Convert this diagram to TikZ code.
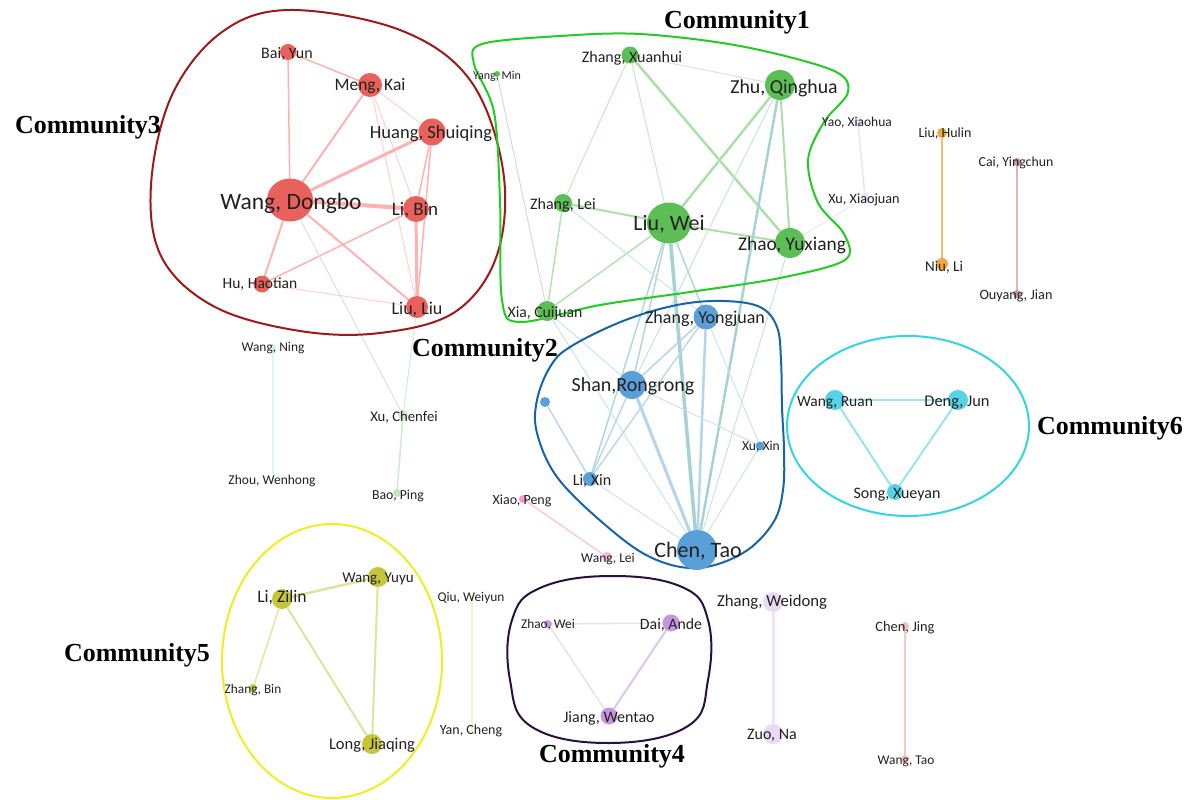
\documentclass[tikz,border=0pt]{standalone}
\usepackage{fontspec}
\newfontfamily\labfont{Carlito}
\newfontfamily\comfont{Liberation Serif}
\usetikzlibrary{shapes.geometric}
\pgfdeclarelayer{back}
\pgfdeclarelayer{bg}
\pgfsetlayers{back,bg,main}
\definecolor{cred}{HTML}{E8615C}
\definecolor{cgreen}{HTML}{5DBE55}
\definecolor{cblue}{HTML}{5B9FD9}
\definecolor{ccyan}{HTML}{57D3E6}
\definecolor{cyel}{HTML}{C6C63A}
\definecolor{cpur}{HTML}{C796DF}
\definecolor{corange}{HTML}{F2A93C}
\definecolor{cbrown}{HTML}{C89A9A}
\definecolor{txt}{HTML}{222222}
\definecolor{hullA}{HTML}{A01818}
\definecolor{hullB}{HTML}{22CC22}
\definecolor{hullC}{HTML}{1565A8}
\definecolor{hullD}{HTML}{2A1040}
\definecolor{hullE}{HTML}{EEEE22}
\definecolor{hullF}{HTML}{33D6E0}
\tikzset{
  nd/.style={circle, inner sep=0pt, minimum size=#1, draw=none},
  lab/.style={inner sep=0pt, text=txt, font=\labfont\fontsize{#1}{#1}\selectfont},
  com/.style={inner sep=0pt, text=black, font=\comfont\bfseries\fontsize{26}{26}\selectfont},
  ed/.style={line width=#1},
  hull/.style={line width=2pt},
}
\begin{document}
\begin{tikzpicture}[x=1pt,y=-1pt]
\useasboundingbox (0,0) rectangle (1187,800);
\begin{pgfonlayer}{back}
\fill[white] (0,0) rectangle (1187,800);
\end{pgfonlayer}

% ---------- hulls ----------
\draw[hull, hullA] plot[smooth cycle, tension=0.6] coordinates {
 (290,10) (400,30) (470,80) (503,170) (497,255) (455,312) (380,333) (300,331) (215,307) (162,258) (151,185) (172,95) (222,32)};
\draw[hull, hullB] plot[smooth cycle, tension=0.55] coordinates {
 (482,44) (560,36) (640,34) (740,46) (832,70) (848,92) (824,122) (808,160) (818,203) (844,234) (845,260) (780,278) (690,292) (600,305) (520,322) (502,300) (500,200) (494,112) (474,64)};
\draw[hull, hullC] plot[smooth cycle, tension=0.6] coordinates {
 (570,347) (623,321) (677,305) (723,301) (760,307) (777,327) (781,360) (782,407) (784,450) (783,490) (773,523) (743,553) (697,568) (650,557) (603,523) (557,477) (537,433) (537,400) (550,367)};
\draw[hull, hullF] (908,426) ellipse[x radius=121, y radius=90];
\draw[hull, hullE] (332,661) ellipse[x radius=110, y radius=137];
\draw[hull, hullD] plot[smooth cycle, tension=0.7] coordinates {
 (610,576) (682,587) (708,620) (708,680) (688,726) (610,743) (532,727) (510,680) (512,620) (540,588)};

% ---------- nodes ----------
% community 3
\node[nd=16, fill=cred] (bai) at (288,52) {};
\node[nd=24, fill=cred] (meng) at (370,85) {};
\node[nd=27, fill=cred] (huang) at (432,132) {};
\node[ellipse, inner sep=0pt, minimum width=46, minimum height=43, fill=cred] (wangd) at (290,200) {};
\node[nd=26, fill=cred] (libin) at (416,209) {};
\node[nd=17, fill=cred] (hu) at (262,284) {};
\node[nd=22, fill=cred] (liuliu) at (417,307) {};
% community 1
\node[nd=17, fill=cgreen] (xuanhui) at (630,55) {};
\node[nd=6, fill=cgreen] (yangmin) at (497,74) {};
\node[nd=30, fill=cgreen] (zhu) at (780,85) {};
\node[nd=18, fill=cgreen] (zhanglei) at (563,203) {};
\node[ellipse, inner sep=0pt, minimum width=44, minimum height=41, fill=cgreen] (liuwei) at (669,223) {};
\node[nd=30, fill=cgreen] (zhao) at (790,243) {};
\node[nd=20, fill=cgreen] (xia) at (547,311) {};
\node[nd=10, fill=blue!10] (yao) at (858,122) {};
\node[nd=10, fill=blue!10] (xuxj) at (865,198) {};
% community 2
\node[nd=25, fill=cblue] (zy) at (706,317) {};
\node[nd=28, fill=cblue] (shan) at (632,385) {};
\node[nd=10, fill=cblue] (unl) at (545,402) {};
\node[nd=9, fill=cblue] (xuxin) at (760,446) {};
\node[nd=14, fill=cblue] (lixin) at (590,479) {};
\node[nd=40, fill=cblue] (chen) at (697,550) {};
% community 6
\node[nd=20, fill=ccyan] (wruan) at (835,400) {};
\node[nd=20, fill=ccyan] (deng) at (958,400) {};
\node[nd=16, fill=ccyan] (song) at (895,492) {};
% community 5
\node[nd=20, fill=cyel] (lizilin) at (282,599) {};
\node[nd=20, fill=cyel] (wyuyu) at (378,577) {};
\node[nd=8, fill=cyel] (zbin) at (253,688) {};
\node[nd=20, fill=cyel] (long) at (372,744) {};
\node[nd=4, fill=cyel!30] (qiu) at (472,598) {};
\node[nd=4, fill=cyel!30] (yan) at (472,731) {};
% community 4
\node[nd=8, fill=cpur] (zwei) at (548,624) {};
\node[nd=17, fill=cpur] (dai) at (671,623) {};
\node[nd=17, fill=cpur] (jiang) at (609,716) {};
% others
\node[nd=20, fill=cpur!35] (zwd) at (773,602) {};
\node[nd=20, fill=cpur!35] (zuo) at (773,734) {};
\node[nd=8, fill=cred!40] (chenjing) at (905,626) {};
\node[nd=8, fill=cred!40] (wangtao) at (905,759) {};
\node[nd=10, fill=corange] (liuh) at (942,133) {};
\node[nd=12, fill=corange] (niu) at (942,264) {};
\node[nd=8, fill=cbrown] (cai) at (1017,162) {};
\node[nd=8, fill=cbrown] (ouyang) at (1017,294) {};
\node[nd=6, fill=ccyan!30] (wning) at (273,347) {};
\node[nd=3, fill=ccyan!20] (zhou) at (273,478) {};
\node[nd=10, fill=cgreen!30] (xuchen) at (403,415) {};
\node[nd=8, fill=cgreen!40] (bao) at (397,493) {};
\node[nd=8, fill=magenta!40] (xiao) at (523,499) {};
\node[nd=10, fill=magenta!30] (wlei) at (607,557) {};

% ---------- edges ----------
\begin{pgfonlayer}{bg}
% red
\draw[ed=1.5, red!30] (bai) -- (wangd);
\draw[ed=1.5, red!30] (bai) -- (meng);
\draw[ed=2, red!30] (meng) -- (wangd);
\draw[ed=1, red!18] (meng) -- (huang);
\draw[ed=1, red!18] (meng) -- (libin);
\draw[ed=1, red!18] (meng) -- (liuliu);
\draw[ed=3, red!30] (huang) -- (wangd);
\draw[ed=1.5, red!30] (huang) -- (libin);
\draw[ed=1.5, red!30] (huang) -- (liuliu);
\draw[ed=4, red!30] (wangd) -- (libin);
\draw[ed=2, red!30] (wangd) -- (hu);
\draw[ed=2, red!30] (wangd) -- (liuliu);
\draw[ed=1.5, red!30] (libin) -- (hu);
\draw[ed=3, red!30] (libin) -- (liuliu);
\draw[ed=1, red!18] (hu) -- (liuliu);
\draw[ed=1, black!12] (wangd) -- (xuchen);
\draw[ed=1, green!40!black!15] (liuliu) -- (xuchen);
% green
\draw[ed=1, cgreen!35] (xuanhui) -- (zhanglei);
\draw[ed=1, cgreen!35] (xuanhui) -- (liuwei);
\draw[ed=2.5, cgreen!50] (xuanhui) -- (zhao);
\draw[ed=1, black!12] (xuanhui) -- (zhu);
\draw[ed=2.5, cgreen!50] (zhu) -- (liuwei);
\draw[ed=2, cgreen!50] (zhu) -- (zhao);
\draw[ed=2, cgreen!50] (zhanglei) -- (liuwei);
\draw[ed=1.5, cgreen!45] (zhanglei) -- (xia);
\draw[ed=2, cgreen!50] (liuwei) -- (zhao);
\draw[ed=1.5, cgreen!45] (liuwei) -- (xia);
\draw[ed=1, black!15] (yangmin) -- (xia);
\draw[ed=1, black!8] (zhao) -- (xuxj);
\draw[ed=1.5, blue!10] (yao) -- (xuxj);
% cross 1-2
\draw[ed=2.5, teal!35] (zhu) -- (chen);
\draw[ed=1, teal!22] (zhu) -- (shan);
\draw[ed=1, teal!22] (zhao) -- (chen);
\draw[ed=3.5, teal!35] (liuwei) -- (chen);
\draw[ed=1.5, teal!30] (liuwei) -- (shan);
\draw[ed=1.5, teal!30] (liuwei) -- (zy);
\draw[ed=1.5, teal!30] (liuwei) -- (lixin);
\draw[ed=1, teal!20] (zhanglei) -- (zy);
\draw[ed=1, teal!20] (xia) -- (chen);
\draw[ed=1, teal!20] (xia) -- (shan);
% blue
\draw[ed=1.5, cblue!45] (zy) -- (shan);
\draw[ed=2.5, cblue!45] (zy) -- (chen);
\draw[ed=1.5, cblue!40] (zy) -- (lixin);
\draw[ed=1, cblue!30] (zy) -- (xuxin);
\draw[ed=3, cblue!45] (shan) -- (chen);
\draw[ed=1.5, cblue!40] (shan) -- (lixin);
\draw[ed=1, cblue!30] (shan) -- (xuxin);
\draw[ed=1.5, cblue!40] (unl) -- (lixin);
\draw[ed=1, cblue!30] (lixin) -- (chen);
\draw[ed=1, cblue!30] (xuxin) -- (chen);
\draw[ed=1, magenta!12] (wlei) -- (chen);
% cyan
\draw[ed=2, ccyan!60] (wruan) -- (deng);
\draw[ed=2, ccyan!60] (wruan) -- (song);
\draw[ed=2, ccyan!60] (deng) -- (song);
% yellow
\draw[ed=2.5, cyel!50] (lizilin) -- (wyuyu);
\draw[ed=1.5, cyel!45] (lizilin) -- (zbin);
\draw[ed=2, cyel!50] (lizilin) -- (long);
\draw[ed=2, cyel!50] (wyuyu) -- (long);
\draw[ed=1.5, cyel!25] (qiu) -- (yan);
% purple
\draw[ed=1.5, black!10] (zwei) -- (dai);
\draw[ed=1.5, black!10] (zwei) -- (jiang);
\draw[ed=2, cpur!55] (dai) -- (jiang);
\draw[ed=3, cpur!25] (zwd) -- (zuo);
% others
\draw[ed=1.5, cred!35] (chenjing) -- (wangtao);
\draw[ed=2.5, corange!75] (liuh) -- (niu);
\draw[ed=2, cbrown!70] (cai) -- (ouyang);
\draw[ed=1.5, ccyan!22] (wning) -- (zhou);
\draw[ed=1.5, cgreen!30] (xuchen) -- (bao);
\draw[ed=1.5, magenta!22] (xiao) -- (wlei);
\end{pgfonlayer}

% ---------- labels ----------
\node[lab=16] (bai-l) at (287,54) {Bai, Yun};
\node[lab=17.5] (meng-l) at (370,86) {Meng, Kai};
\node[lab=18.5] (huang-l) at (431,134) {Huang, Shuiqing};
\node[lab=23.5] (wangd-l) at (291,203) {Wang, Dongbo};
\node[lab=19] (libin-l) at (415,210) {Li, Bin};
\node[lab=15.5] (hu-l) at (260,284) {Hu, Haotian};
\node[lab=18] (liuliu-l) at (417,309) {Liu, Liu};
\node[lab=16] (xuanhui-l) at (632,58) {Zhang, Xuanhui};
\node[lab=12] (yangmin-l) at (497,76) {Yang, Min};
\node[lab=19.8] (zhu-l) at (784,88) {Zhu, Qinghua};
\node[lab=16] (zhanglei-l) at (563,205) {Zhang, Lei};
\node[lab=22] (liuwei-l) at (669,224) {Liu, Wei};
\node[lab=19.4] (zhao-l) at (792,245) {Zhao, Yuxiang};
\node[lab=15.7] (xia-l) at (545,313) {Xia, Cuijuan};
\node[lab=13.5] (yao-l) at (857,123) {Yao, Xiaohua};
\node[lab=14.2] (xuxj-l) at (864,200) {Xu, Xiaojuan};
\node[lab=18] (zy-l) at (705,319) {Zhang, Yongjuan};
\node[lab=20] (shan-l) at (633,386) {Shan,Rongrong};
\node[lab=13.6] (xuxin-l) at (761,447) {Xu, Xin};
\node[lab=16] (lixin-l) at (592,481) {Li, Xin};
\node[lab=22] (chen-l) at (698,551) {Chen, Tao};
\node[lab=15.5] (wruan-l) at (835,403) {Wang, Ruan};
\node[lab=16.4] (deng-l) at (957,403) {Deng, Jun};
\node[lab=16] (song-l) at (897,495) {Song, Xueyan};
\node[lab=17.6] (lizilin-l) at (282,598) {Li, Zilin};
\node[lab=15] (wyuyu-l) at (378,579) {Wang, Yuyu};
\node[lab=13.3] (zbin-l) at (253,690) {Zhang, Bin};
\node[lab=16.5] (long-l) at (372,745) {Long, Jiaqing};
\node[lab=13.4] (qiu-l) at (471,598) {Qiu, Weiyun};
\node[lab=14] (yan-l) at (471,731) {Yan, Cheng};
\node[lab=13.3] (zwei-l) at (548,625) {Zhao, Wei};
\node[lab=15.8] (dai-l) at (671,625) {Dai, Ande};
\node[lab=16] (jiang-l) at (609,718) {Jiang, Wentao};
\node[lab=16.7] (zwd-l) at (772,602) {Zhang, Weidong};
\node[lab=16] (zuo-l) at (772,735) {Zuo, Na};
\node[lab=14.4] (chenjing-l) at (905,628) {Chen, Jing};
\node[lab=13.4] (wangtao-l) at (906,761) {Wang, Tao};
\node[lab=14] (liuh-l) at (945,134) {Liu, Hulin};
\node[lab=15] (niu-l) at (944,267) {Niu, Li};
\node[lab=13.8] (cai-l) at (1016,163) {Cai, Yingchun};
\node[lab=14.2] (ouyang-l) at (1016,296) {Ouyang, Jian};
\node[lab=13.4] (wning-l) at (273,348) {Wang, Ning};
\node[lab=13.5] (zhou-l) at (272,481) {Zhou, Wenhong};
\node[lab=14.7] (xuchen-l) at (404,417) {Xu, Chenfei};
\node[lab=13.8] (bao-l) at (398,496) {Bao, Ping};
\node[lab=14] (xiao-l) at (522,501) {Xiao, Peng};
\node[lab=13.5] (wlei-l) at (608,559) {Wang, Lei};

% ---------- community titles ----------
\node[com] (c1) at (737,22) {Community1};
\node[com] (c2) at (485,350) {Community2};
\node[com] (c3) at (88,127) {Community3};
\node[com] (c4) at (612,756) {Community4};
\node[com] (c5) at (137,655) {Community5};
\node[com] (c6) at (1110,428) {Community6};
\end{tikzpicture}
\end{document}
